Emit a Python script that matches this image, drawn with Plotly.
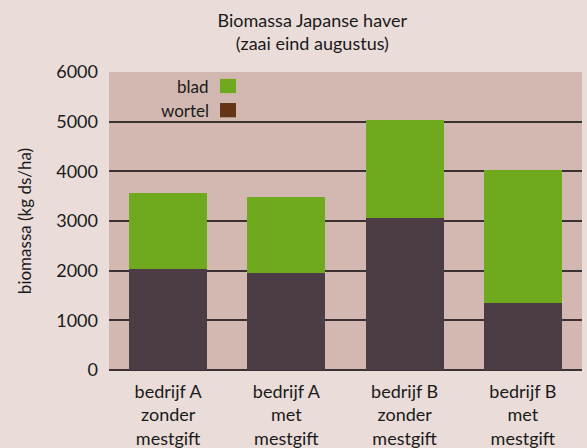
import plotly.graph_objects as go

categories = ["bedrijf A<br>zonder<br>mestgift", "bedrijf A<br>met<br>mestgift",
              "bedrijf B<br>zonder<br>mestgift", "bedrijf B<br>met<br>mestgift"]
wortel = [2040, 1960, 3060, 1350]
totaal = [3570, 3490, 5040, 4030]
blad = [t - w for t, w in zip(totaal, wortel)]
y_ticks = [0, 1000, 2000, 3000, 4000, 5000, 6000]

FONT = "Lato"
TXT = "#1a1a1a"
PAPER = "#eaddd9"

fig = go.Figure()
fig.add_trace(go.Bar(x=categories, y=wortel, name="wortel", marker_color="#4b3c45",
                     marker_line_width=0, showlegend=False))
fig.add_trace(go.Bar(x=categories, y=blad, name="blad", marker_color="#6fa91e",
                     marker_line_width=0, showlegend=False))

# legend (text left of swatch)
legend_items = [("blad", "#6fa91e", 0.953), ("wortel", "#653615", 0.872)]
for label, col, yc in legend_items:
    fig.add_annotation(text=label, x=0.2165, y=yc, xref="paper", yref="paper",
                       xanchor="right", yanchor="middle", showarrow=False,
                       font=dict(family=FONT, size=17, color=TXT))
    fig.add_shape(type="rect", xref="paper", yref="paper",
                  x0=0.2347, x1=0.2685, y0=yc - 0.024, y1=yc + 0.024,
                  fillcolor=col, line_width=0)

fig.update_layout(
    width=587, height=448,
    margin=dict(l=109, r=5, t=72, b=78, autoexpand=False),
    paper_bgcolor=PAPER,
    plot_bgcolor="#d3b8b1",
    barmode="stack",
    bargap=0.34,
    font=dict(family=FONT, size=18, color=TXT),
    title=dict(text="Biomassa Japanse haver<br>(zaai eind augustus)",
               x=0.532, xanchor="center", y=0.94, yanchor="top",
               font=dict(family=FONT, size=18, color=TXT)),
    xaxis=dict(showgrid=False, ticks="", tickfont=dict(size=18),
               automargin=False, ticklabelstandoff=9),
    yaxis=dict(range=[0, 6000], tickvals=y_ticks, showgrid=True,
               gridcolor="#3b3133", gridwidth=1.5, zeroline=True,
               zerolinecolor="#3b3133", zerolinewidth=1.5, automargin=False,
               ticks="", ticklabelstandoff=10, tickfont=dict(size=18),
               title=dict(text="biomassa (kg ds/ha)", font=dict(size=17), standoff=20)),
)

fig.write_html("out.html", config={"displayModeBar": False},
               post_script="document.body.style.margin='0';"
                           "document.body.style.background='" + PAPER + "';")
